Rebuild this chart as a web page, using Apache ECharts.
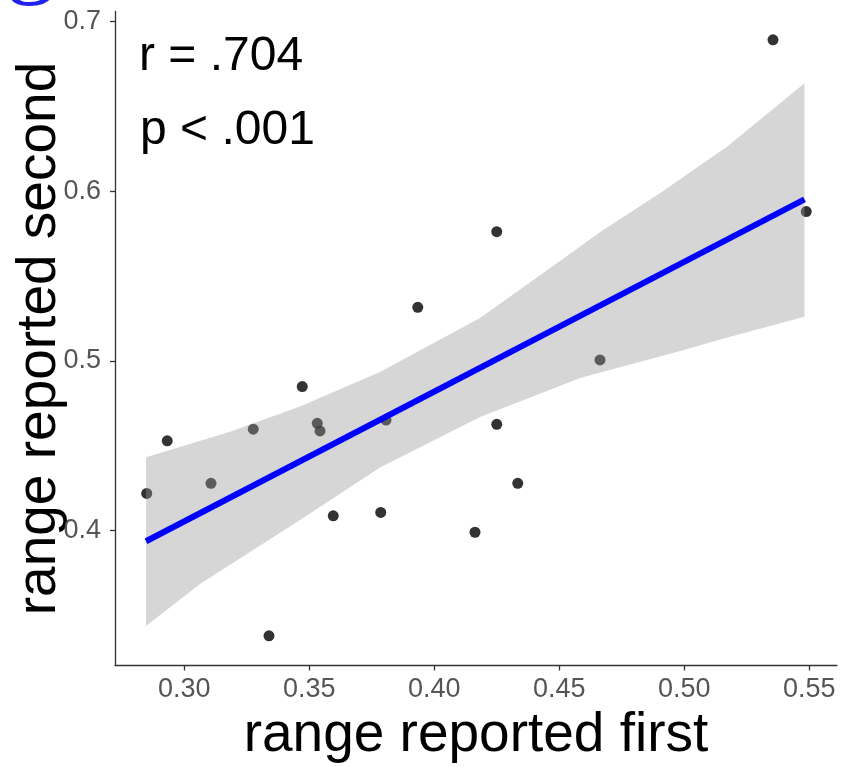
<!DOCTYPE html>
<html>
<head>
<meta charset="utf-8">
<script src="https://cdn.jsdelivr.net/npm/echarts@6/dist/echarts.min.js"></script>
<style>
html,body{margin:0;padding:0;background:#fff;}
#c{width:845px;height:767px;}
</style>
</head>
<body>
<div id="c"></div>
<script>
// scatter data (range reported first, range reported second)
const xFirst = [0.2850,0.2932,0.3107,0.3276,0.3472,0.3532,0.3543,0.3596,0.3786,0.3339,0.3807,0.4250,0.3934,0.4663,0.4250,0.4334,0.4163,0.5355,0.5488];
const ySecond = [0.4220,0.4530,0.4279,0.4598,0.4849,0.4633,0.4588,0.4088,0.4108,0.3381,0.4652,0.5762,0.5316,0.5006,0.4627,0.4279,0.3991,0.6892,0.5880];
// fitted line endpoints
const fitX = [0.2847, 0.5481];
const fitY = [0.3938, 0.5952];
// confidence band edges
const bandUpperX = [0.2847,0.3183,0.3463,0.3783,0.4183,0.4503,0.4664,0.4904,0.5172,0.5481];
const bandUpperY = [0.4433,0.4583,0.4732,0.4935,0.5253,0.5589,0.5760,0.5990,0.6263,0.6636];
const bandLowerX = [0.2847,0.3063,0.3463,0.3783,0.4183,0.4584,0.4984,0.5172,0.5481];
const bandLowerY = [0.3438,0.3686,0.4063,0.4372,0.4670,0.4900,0.5059,0.5138,0.5261];
// axis ticks
const xTicks = [0.30,0.35,0.40,0.45,0.50,0.55];
const yTicks = [0.4,0.5,0.6,0.7];

const FONT = '"Liberation Sans", Arial, sans-serif';
const chart = echarts.init(document.getElementById('c'), null, {renderer:'canvas'});

const points = xFirst.map((x,i)=>[x, ySecond[i]]);
const upper = bandUpperX.map((x,i)=>[x, bandUpperY[i]]);
const lower = bandLowerX.map((x,i)=>[x, bandLowerY[i]]);
const fit = fitX.map((x,i)=>[x, fitY[i]]);

chart.setOption({
  animation:false,
  backgroundColor:'#fff',
  grid:{left:115, right:8, top:11.5, bottom:101.5, containLabel:false, outerBoundsMode:'none'},
  xAxis:{
    type:'value', min:0.2723, max:0.5611,
    name:'range reported first', nameLocation:'middle', nameGap:14,
    nameTextStyle:{fontFamily:FONT, fontSize:55, color:'#000'},
    axisLine:{show:true, lineStyle:{color:'#333', width:1.3}},
    axisTick:{show:true, customValues:xTicks, length:5, lineStyle:{color:'#333', width:1.3}},
    axisLabel:{customValues:xTicks, formatter:v=>v.toFixed(2), fontFamily:FONT, fontSize:27, color:'#555', margin:11},
    splitLine:{show:false}
  },
  yAxis:{
    type:'value', min:0.3206, max:0.7059,
    name:'range reported second', nameLocation:'middle', nameGap:48, nameRotate:90, nameMoveOverlap:false,
    nameTextStyle:{fontFamily:FONT, fontSize:55, color:'#000'},
    axisLine:{show:true, lineStyle:{color:'#333', width:1.3}},
    axisTick:{show:true, customValues:yTicks, length:5, lineStyle:{color:'#333', width:1.3}},
    axisLabel:{customValues:yTicks, formatter:v=>v.toFixed(1), fontFamily:FONT, fontSize:27, color:'#555', margin:14},
    splitLine:{show:false}
  },
  series:[
    {
      type:'scatter', data:points, symbol:'circle', symbolSize:11, z:2,
      itemStyle:{color:'#000'}, silent:true
    },
    {
      type:'custom', z:3, silent:true, data:[0],
      renderItem:function(params, api){
        const pts = upper.map(p=>api.coord(p)).concat(lower.slice().reverse().map(p=>api.coord(p)));
        return {type:'polygon', shape:{points:pts}, style:{fill:'rgba(153,153,153,0.4)', stroke:null}};
      }
    },
    {
      type:'line', data:fit, showSymbol:false, z:4, silent:true,
      lineStyle:{color:'#0000ff', width:6}
    }
  ],
  graphic:[
    {type:'text', left:139, top:33, style:{text:'r = .704', font:'48px "Liberation Sans", Arial, sans-serif', fill:'#000'}},
    {type:'text', left:140, top:107, style:{text:'p < .001', font:'48px "Liberation Sans", Arial, sans-serif', fill:'#000'}},
    {type:'text', x:6, y:9, style:{text:'g', font:'100px "Liberation Serif", "Times New Roman", serif', fill:'#2222ee', verticalAlign:'bottom'}}
  ]
});
</script>
</body>
</html>
